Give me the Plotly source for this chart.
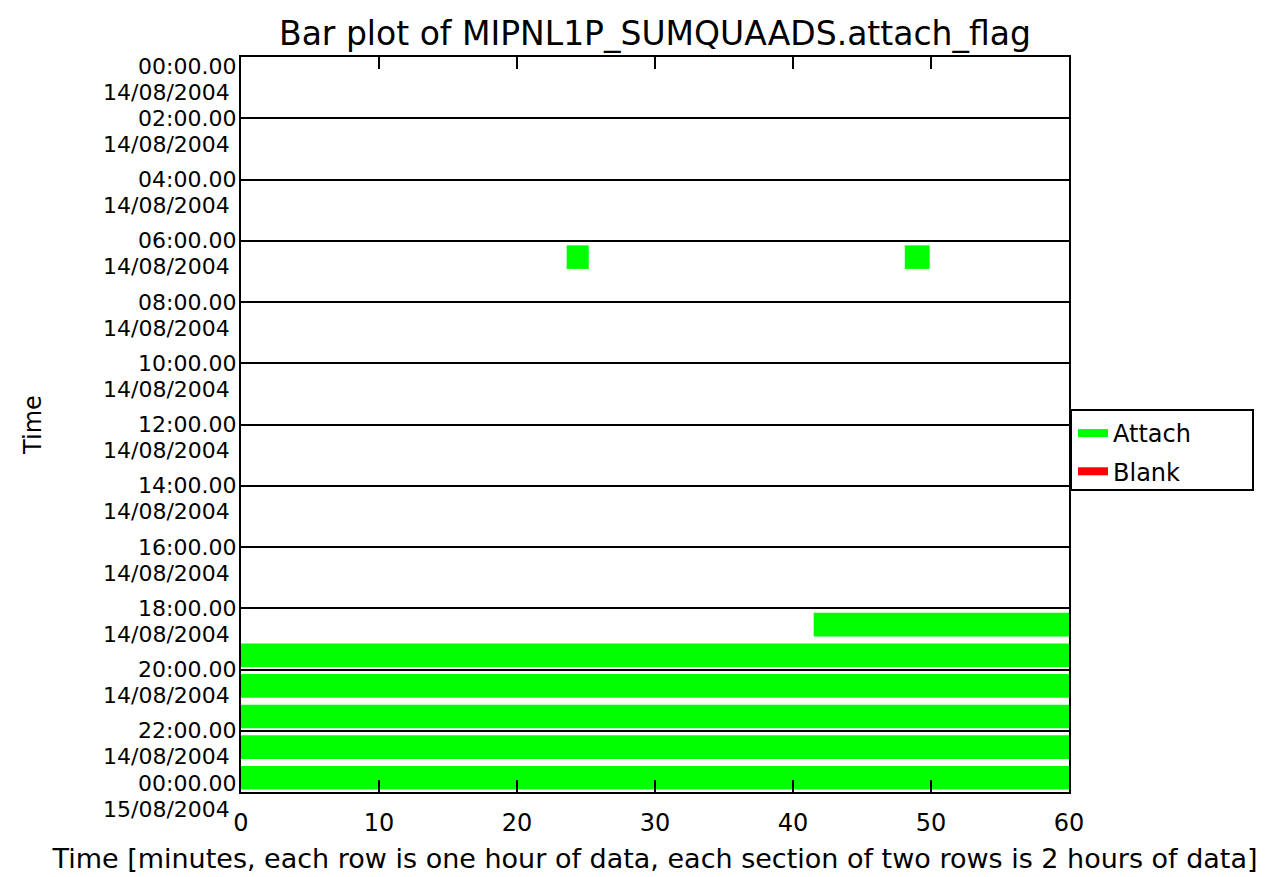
import plotly.graph_objects as go

# ---- data ----
row_hours = [6, 6, 18, 19, 20, 21, 22, 23]          # hour-of-day row (each row = 1 hour)
start_min = [23.6, 48.1, 41.5, 0, 0, 0, 0, 0]       # segment start (minutes)
end_min = [25.2, 49.9, 60, 60, 60, 60, 60, 60]      # segment end (minutes)
section_hours = [0, 2, 4, 6, 8, 10, 12, 14, 16, 18, 20, 22, 24]
section_times = ["00:00.00", "02:00.00", "04:00.00", "06:00.00", "08:00.00", "10:00.00",
                 "12:00.00", "14:00.00", "16:00.00", "18:00.00", "20:00.00", "22:00.00", "00:00.00"]
section_dates = ["14/08/2004"] * 12 + ["15/08/2004"]
x_ticks = [0, 10, 20, 30, 40, 50, 60]
legend_names = ["Attach", "Blank"]
legend_colors = ["#00ff00", "#ff0000"]

FONT = "DejaVu Sans"
fig = go.Figure()

fig.add_trace(go.Bar(
    orientation="h",
    y=[h + 0.5 for h in row_hours],
    base=start_min,
    x=[e - s for s, e in zip(start_min, end_min)],
    width=0.77, offset=-0.35,
    marker=dict(color=legend_colors[0], line=dict(width=0)),
    showlegend=False, hoverinfo="skip",
))

for name, col in zip(legend_names, legend_colors):
    fig.add_trace(go.Scatter(x=[None], y=[None], mode="lines", name=name, legendgroup=name,
                             line=dict(color=col, width=8)))

annotations = []
n = len(section_hours)
for i, (h, t, d) in enumerate(zip(section_hours, section_times, section_dates)):
    ys = 0
    if i == 0:
        ys = -9
    elif i == n - 1:
        ys = 9
    annotations.append(dict(x=0, xref="paper", y=h, yref="y", text=t, showarrow=False,
                            xanchor="right", yanchor="middle", xshift=-3, yshift=ys,
                            font=dict(family=FONT, size=22, color="black")))
    annotations.append(dict(x=0, xref="paper", y=h, yref="y", text=d, showarrow=False,
                            xanchor="right", yanchor="middle", xshift=-9, yshift=ys - 26,
                            font=dict(family=FONT, size=22, color="black")))

# legend frame (pixel-matched to reference)
L, T, PW, PH = 233, 49, 828, 735
def px_x(p):
    return (p - 8 - L) / PW
def px_y(p):
    return 1 - (p - 8 - T) / PH

fig.update_layout(
    width=1276, height=869,
    margin=dict(l=L, r=1276 - L - PW, t=T, b=869 - T - PH),
    paper_bgcolor="white", plot_bgcolor="white",
    title=dict(text="Bar plot of MIPNL1P_SUMQUAADS.attach_flag", x=(L + PW / 2) / 1276, xanchor="center",
               y=1 - 25 / 869, yanchor="middle",
               font=dict(family=FONT, size=33, color="black")),
    font=dict(family=FONT, size=24, color="black"),
    barmode="overlay",
    annotations=annotations,
    shapes=[dict(type="rect", xref="paper", yref="paper",
                 x0=px_x(1071), x1=px_x(1253), y0=px_y(490), y1=px_y(410),
                 line=dict(color="black", width=2), fillcolor="rgba(0,0,0,0)")],
    legend=dict(x=px_x(1073), xanchor="left", y=px_y(411), yanchor="top",
                borderwidth=0, bgcolor="rgba(0,0,0,0)",
                font=dict(family=FONT, size=24, color="black"),
                itemwidth=30, tracegroupgap=4),
    xaxis=dict(range=[0, 60], tickvals=x_ticks, ticktext=[str(v) for v in x_ticks],
               ticks="inside", ticklen=12, tickwidth=2, tickcolor="black",
               ticklabelstandoff=8, automargin=False,
               showline=True, linecolor="black", linewidth=2, mirror="ticks",
               showgrid=False, zeroline=False,
               title=dict(text="Time [minutes, each row is one hour of data, each section of two rows is 2 hours of data]",
                          font=dict(family=FONT, size=27, color="black"), standoff=13),
               tickfont=dict(family=FONT, size=24, color="black")),
    yaxis=dict(range=[24, 0], tickvals=section_hours, showticklabels=False, ticks="",
               automargin=False,
               showline=True, linecolor="black", linewidth=2, mirror=True,
               showgrid=True, gridcolor="black", gridwidth=2, zeroline=False,
               title=dict(text="Time", font=dict(family=FONT, size=24, color="black"), standoff=191)),
)

fig.write_html("out.html")
